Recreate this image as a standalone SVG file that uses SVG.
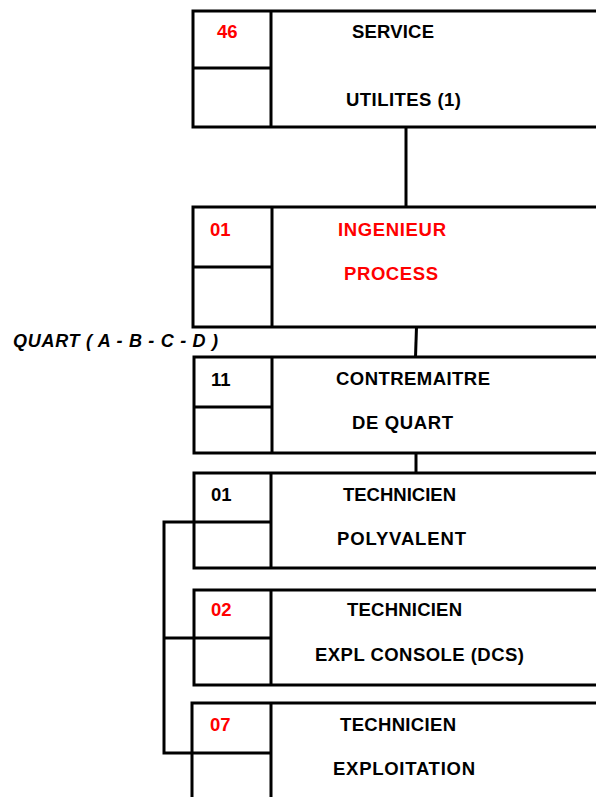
<svg xmlns="http://www.w3.org/2000/svg" width="596" height="797" viewBox="0 0 596 797">
<style>
.box{fill:#fff;stroke:#000;stroke-width:3}
.ln{fill:none;stroke:#000;stroke-width:3}
.t{font-family:"Liberation Sans",Arial,sans-serif;font-weight:bold;font-size:18.5px;fill:#000}
.r{fill:#ff0000}
.q{font-style:italic;font-size:18px}
</style>
<rect width="596" height="797" fill="#fff"/>
<g id="connectors">
<path class="ln" d="M406,127 V207"/>
<path class="ln" d="M416.5,327 L415.5,357"/>
<path class="ln" d="M416,453 V473"/>
<path class="ln" d="M194,522 H164 V753 H192"/>
<path class="ln" d="M164,638 H194"/>
</g>
<g id="n46">
<rect class="box" x="193" y="11" width="420" height="116"/>
<path class="ln" d="M271,11 V127 M193,68 H271"/>
<text class="t r" x="217" y="38">46</text>
<text class="t" x="352" y="38" textLength="82">SERVICE</text>
<text class="t" x="346" y="106" textLength="115">UTILITES (1)</text>
</g>
<g id="n01a">
<rect class="box" x="193" y="207" width="420" height="120"/>
<path class="ln" d="M272,207 V327 M193,267 H272"/>
<text class="t r" x="210" y="236">01</text>
<text class="t r" x="338" y="236" textLength="108">INGENIEUR</text>
<text class="t r" x="344" y="280" textLength="94">PROCESS</text>
</g>
<text id="quart" class="t q" x="13" y="347" textLength="205">QUART ( A - B - C - D )</text>
<g id="n11">
<rect class="box" x="194" y="357" width="420" height="96"/>
<path class="ln" d="M272,357 V453 M194,407 H272"/>
<text class="t" x="211" y="386">11</text>
<text class="t" x="336" y="385" textLength="154">CONTREMAITRE</text>
<text class="t" x="352" y="429" textLength="101">DE QUART</text>
</g>
<g id="n01b">
<rect class="box" x="194" y="473" width="420" height="95"/>
<path class="ln" d="M271,473 V568 M194,522 H271"/>
<text class="t" x="211" y="501">01</text>
<text class="t" x="343" y="501" textLength="113">TECHNICIEN</text>
<text class="t" x="337" y="545" textLength="129">POLYVALENT</text>
</g>
<g id="n02">
<rect class="box" x="194" y="590" width="420" height="95"/>
<path class="ln" d="M271,590 V685 M194,638 H271"/>
<text class="t r" x="211" y="616">02</text>
<text class="t" x="347" y="616" textLength="115">TECHNICIEN</text>
<text class="t" x="315" y="661" textLength="209">EXPL CONSOLE (DCS)</text>
</g>
<g id="n07">
<rect class="box" x="192" y="703" width="420" height="110"/>
<path class="ln" d="M271,703 V813 M192,753 H271"/>
<text class="t r" x="210" y="731">07</text>
<text class="t" x="340" y="731" textLength="116">TECHNICIEN</text>
<text class="t" x="333" y="775" textLength="142">EXPLOITATION</text>
</g>
</svg>
